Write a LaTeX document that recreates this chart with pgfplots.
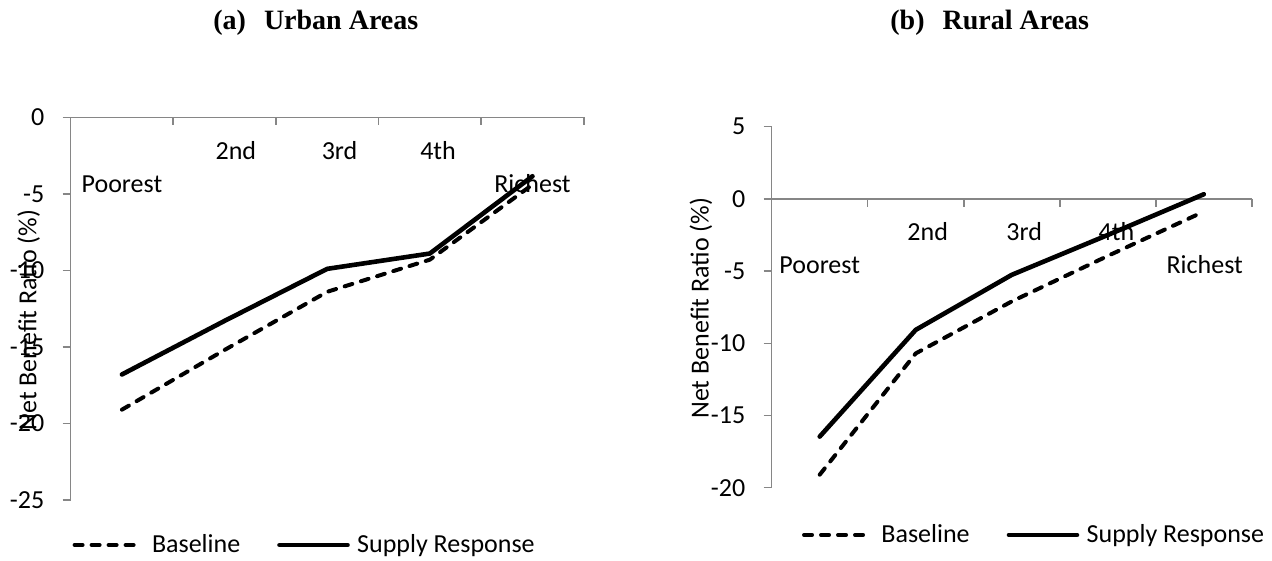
\documentclass[border=0pt]{standalone}
\usepackage{fontspec}
\setmainfont{Carlito}
\newfontfamily\titlefont{Liberation Serif}
\usepackage{pgfplots}
\pgfplotsset{compat=1.18}
\definecolor{axgray}{RGB}{134,134,134}
\newcommand\cf{\fontsize{13}{15.6}\selectfont}

\pgfplotsset{
  panel/.style={
    scale only axis, clip=false,
    xmin=-0.5, xmax=4.5,
    axis x line=none, axis y line*=left,
    xtick=\empty,
    y axis line style={draw=axgray, line width=0.75pt},
    ytick style={draw=axgray, line width=0.75pt},
    tick align=outside, major tick length=4pt,
    /pgf/number format/assume math mode=true,
    yticklabel style={font=\cf, anchor=east, inner xsep=0pt},
    yticklabel shift=9pt,
    ylabel={Net Benefit Ratio (\%)},
    ylabel style={font=\cf, anchor=center},
    legend columns=2,
    legend style={draw=none, fill=none, inner sep=0pt, outer sep=0pt, font=\cf,
      nodes={inner xsep=0pt, inner ysep=1pt},
      /tikz/every odd column/.append style={column sep=2.7pt},
      /tikz/every even column/.append style={column sep=17.5pt}},
  },
  base/.style={black, line width=2pt, line cap=round, line join=round, dash pattern=on 4pt off 4.5pt,
    legend image code/.code={\draw[##1] (1pt,0pt) -- (30.5pt,0pt); \path (0pt,0pt) (36pt,0pt);}},
  supply/.style={black, line width=2.3pt, line cap=round, line join=round,
    legend image code/.code={\draw[##1] (1pt,0pt) -- (35pt,0pt); \path (0pt,0pt) (36pt,0pt);}},
}

\begin{document}
\begin{tikzpicture}[x=1pt,y=1pt]
\path[use as bounding box] (0,0) rectangle (636,280.5);
\node[anchor=base west, inner sep=0pt, font=\titlefont\bfseries\fontsize{14}{16.8}\selectfont] at (106.5,265.5) {(a)\hspace{9pt}Urban Areas};
\node[anchor=base west, inner sep=0pt, font=\titlefont\bfseries\fontsize{14}{16.8}\selectfont] at (445,265.5) {(b)\hspace{9pt}Rural Areas};

% (a) Urban
\begin{axis}[panel,
  at={(35.3pt,30.5pt)}, anchor=south west,
  width=256.6pt, height=191.35pt,
  ymin=-25, ymax=0, ytick={-25,-20,-15,-10,-5,0},
  ylabel style={at={(axis description cs:-0.0816,0.47)}},
  legend style={at={(axis description cs:0,-0.1176)}, anchor=west},
]
\draw[axgray, line width=0.75pt] (axis cs:-0.5,0) -- (axis cs:4.5,0);
\pgfplotsinvokeforeach{-0.5,0.5,1.5,2.5,3.5,4.5}{\draw[axgray, line width=0.75pt] (axis cs:#1,0) -- ++(0pt,-4pt);}
\node[font=\cf, anchor=base, inner sep=0pt] at (axis cs:0,-4.93) {Poorest};
\node[font=\cf, anchor=base, inner sep=0pt] at (axis cs:1.11,-2.74) {2nd};
\node[font=\cf, anchor=base, inner sep=0pt] at (axis cs:2.12,-2.74) {3rd};
\node[font=\cf, anchor=base, inner sep=0pt] at (axis cs:3.08,-2.74) {4th};
\node[font=\cf, anchor=base, inner sep=0pt] at (axis cs:4.0,-4.93) {Richest};
\addplot[base] coordinates {(0,-19.1) (1,-15.2) (2,-11.4) (3,-9.3) (4,-4.4)};
\addlegendentry{Baseline}
\addplot[supply] coordinates {(0,-16.8) (1,-13.3) (2,-9.9) (3,-8.9) (4,-3.85)};
\addlegendentry{Supply Response}
\end{axis}

% (b) Rural
\begin{axis}[panel,
  at={(385.85pt,36.65pt)}, anchor=south west,
  width=240.05pt, height=180.5pt,
  ymin=-20, ymax=5, ytick={-20,-15,-10,-5,0,5},
  ylabel style={at={(axis description cs:-0.1477,0.497)}},
  legend style={at={(axis description cs:0.059,-0.131)}, anchor=west},
]
\draw[axgray, line width=0.75pt] (axis cs:-0.5,0) -- (axis cs:4.5,0);
\pgfplotsinvokeforeach{-0.5,0.5,1.5,2.5,3.5,4.5}{\draw[axgray, line width=0.75pt] (axis cs:#1,0) -- ++(0pt,-4pt);}
\node[font=\cf, anchor=base, inner sep=0pt] at (axis cs:0,-5.19) {Poorest};
\node[font=\cf, anchor=base, inner sep=0pt] at (axis cs:1.125,-2.89) {2nd};
\node[font=\cf, anchor=base, inner sep=0pt] at (axis cs:2.13,-2.89) {3rd};
\node[font=\cf, anchor=base, inner sep=0pt] at (axis cs:3.09,-2.89) {4th};
\node[font=\cf, anchor=base, inner sep=0pt] at (axis cs:4.01,-5.19) {Richest};
\addplot[base] coordinates {(0,-19.1) (1,-10.7) (2,-7.1) (3,-3.95) (4,-0.88)};
\addlegendentry{Baseline}
\addplot[supply] coordinates {(0,-16.46) (1,-9.07) (2,-5.26) (3,-2.5) (4,0.32)};
\addlegendentry{Supply Response}
\end{axis}
\end{tikzpicture}
\end{document}
